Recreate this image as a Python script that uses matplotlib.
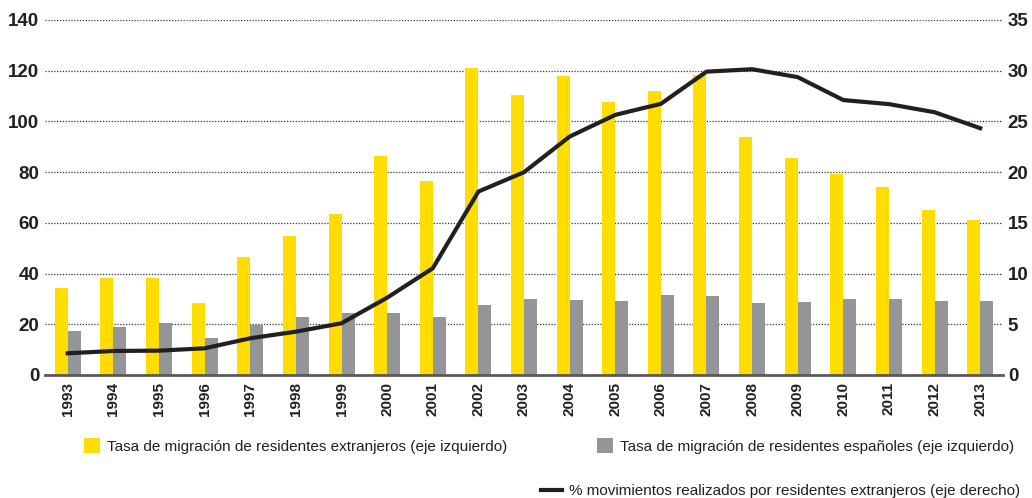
import numpy as np
import matplotlib
matplotlib.use('Agg')
import matplotlib.pyplot as plt

plt.rcParams['font.family'] = ['Liberation Sans', 'DejaVu Sans']

## data
years = ['1993', '1994', '1995', '1996', '1997', '1998', '1999', '2000', '2001', '2002', '2003',
         '2004', '2005', '2006', '2007', '2008', '2009', '2010', '2011', '2012', '2013']
tasa_extranjeros = [34.2, 38.1, 38.1, 28.3, 46.7, 54.9, 63.5, 86.4, 76.5, 120.9, 110.3,
                    117.9, 107.8, 111.9, 118.4, 93.8, 85.7, 79.3, 74.0, 65.2, 61.1]
tasa_espanoles = [17.5, 19.0, 20.4, 14.5, 19.7, 23.0, 24.6, 24.3, 22.7, 27.6, 29.8,
                  29.4, 29.3, 31.5, 31.2, 28.3, 28.8, 30.1, 29.8, 29.2, 29.2]
pct_mov_extranjeros = [2.14, 2.37, 2.40, 2.63, 3.62, 4.27, 5.10, 7.62, 10.52, 18.08, 19.99,
                       23.5, 25.64, 26.73, 29.9, 30.14, 29.36, 27.1, 26.7, 25.9, 24.33]

lab_ext = 'Tasa de migración de residentes extranjeros (eje izquierdo)'
lab_esp = 'Tasa de migración de residentes españoles (eje izquierdo)'
lab_pct = '% movimientos realizados por residentes extranjeros (eje derecho)'

yellow = '#ffdd00'
grey = '#939598'
dark = '#231f20'

fig = plt.figure(figsize=(10.32, 4.98), dpi=100)
ax = fig.add_axes([0.0436, 0.247, 0.9283, 0.713])
x = np.arange(len(years))
w = 0.285

b1 = ax.bar(x - w / 2, tasa_extranjeros, w, color=yellow, edgecolor='none', zorder=2)
b2 = ax.bar(x + w / 2, tasa_espanoles, w, color=grey, edgecolor='none', zorder=2)

ax.set_xlim(-0.5, len(years) - 0.5)
ax.set_ylim(0, 140)
ax.set_yticks(range(0, 141, 20))
ax.set_xticks(x)
ax.set_xticklabels(years, rotation=90, fontsize=11, fontweight='bold', color=dark)
ax.tick_params(axis='y', length=0, pad=4, labelsize=13.5, labelcolor=dark)
ax.tick_params(axis='x', length=0, pad=5)
for t in ax.get_yticklabels():
    t.set_fontweight('bold')
ax.yaxis.grid(True, linestyle=(0, (1, 1.3)), color='#333333', linewidth=0.9, zorder=0)
ax.set_axisbelow(True)
for s in ['top', 'left', 'right']:
    ax.spines[s].set_visible(False)
ax.spines['bottom'].set_color('#58595b')
ax.spines['bottom'].set_linewidth(2)
ax.spines['bottom'].set_zorder(5)

ax2 = ax.twinx()
ln, = ax2.plot(x, pct_mov_extranjeros, color=dark, linewidth=3, zorder=4)
ax2.set_ylim(0, 35)
ax2.set_yticks(range(0, 36, 5))
ax2.tick_params(axis='y', length=0, pad=3.5, labelsize=13.5, labelcolor=dark)
for t in ax2.get_yticklabels():
    t.set_fontweight('bold')
for s in ax2.spines.values():
    s.set_visible(False)

legkw = dict(frameon=False, fontsize=11, borderpad=0, borderaxespad=0,
             handletextpad=0.45, labelcolor=dark)
fig.legend([b1], [lab_ext], loc='center left', bbox_to_anchor=(0.0814, 0.104),
           handlelength=1.05, handleheight=1.15, **legkw)
fig.legend([b2], [lab_esp], loc='center left', bbox_to_anchor=(0.5785, 0.104),
           handlelength=1.05, handleheight=1.15, **legkw)
fig.legend([ln], [lab_pct], loc='center left', bbox_to_anchor=(0.524, 0.014),
           handlelength=1.4, **legkw)

fig.savefig('out.png', dpi=100)
